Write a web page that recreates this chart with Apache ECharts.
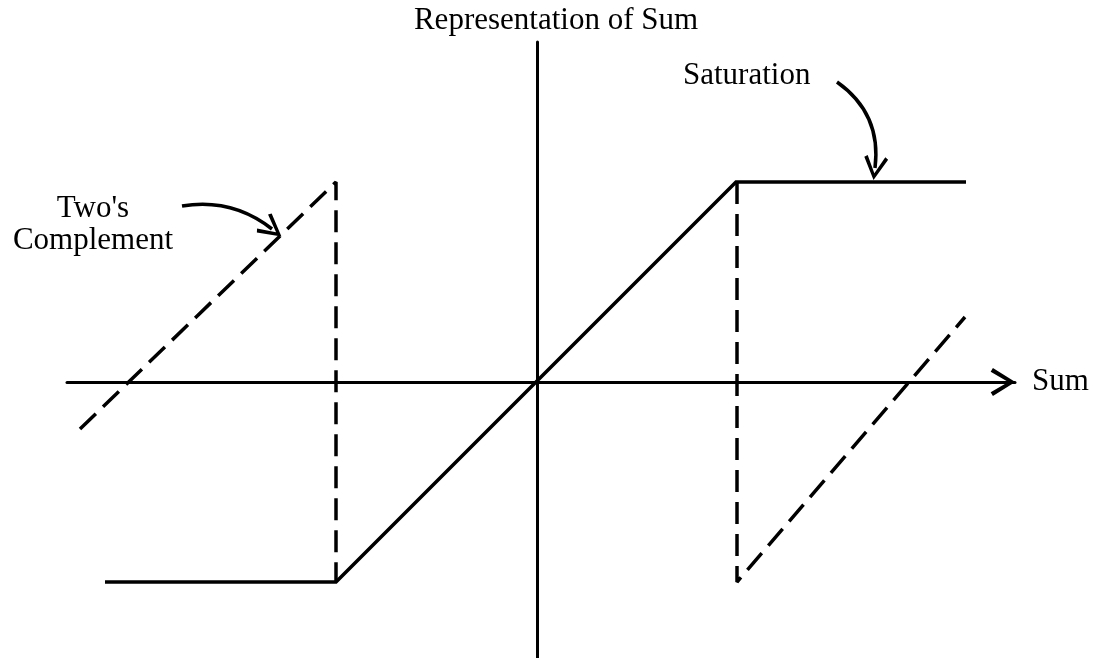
<!DOCTYPE html>
<html>
<head>
<meta charset="utf-8">
<script src="https://cdn.jsdelivr.net/npm/echarts@6/dist/echarts.min.js"></script>
<style>
    html, body { margin: 0; padding: 0; background: #fff; }
    #chart { width: 1099px; height: 658px; }
</style>
</head>
<body>
<div id="chart"></div>
<script>
    // transfer curve, in units of the saturation level
    var solidX = [-2.16, -1.005, 0.995, 2.145];
    var solidY = [-1, -1, 1, 1];

    // two's complement wrap-around, left and right pieces
    var wrapLeftX = [-2.285, -1.005, -1.005];
    var wrapLeftY = [-0.235, 1, -1];
    var wrapRightX = [1, 1, 2.14];
    var wrapRightY = [1, -1, 0.325];

    // annotation arrows: [startX, startY, endX, endY]
    var twosArrow = [-1.775, 0.88, -1.325, 0.765];
    var satArrow = [1.5, 1.5, 1.69, 1.07];

    var font = '"Liberation Serif", "DejaVu Serif", serif';

    function pairs(xs, ys) {
        var out = [];
        for (var i = 0; i < xs.length; i++) {
            out.push([xs[i], ys[i]]);
        }
        return out;
    }

    var chevron = 'path://M0,16 L10,0 L20,16 L17.4,17.6 L10,5 L2.6,17.6 Z';

    var chart = echarts.init(document.getElementById('chart'));
    chart.setOption({
        backgroundColor: '#ffffff',
        animation: false,
        grid: {
            left: 67,
            top: 42,
            width: 948,
            height: 616
        },
        xAxis: {
            type: 'value',
            min: -2.35,
            max: 2.39,
            name: 'Sum',
            nameLocation: 'end',
            nameGap: 17,
            nameTextStyle: {
                fontFamily: font,
                fontSize: 31,
                color: '#000'
            },
            axisLine: {
                onZero: true,
                symbol: ['none', chevron],
                symbolSize: [28, 30],
                symbolOffset: [0, -12],
                lineStyle: {color: '#000', width: 3}
            },
            axisTick: {show: false},
            axisLabel: {show: false},
            splitLine: {show: false}
        },
        yAxis: {
            type: 'value',
            min: -1.38,
            max: 1.7,
            name: 'Representation of Sum',
            nameLocation: 'end',
            nameGap: 6,
            nameTextStyle: {
                fontFamily: font,
                fontSize: 31,
                color: '#000',
                padding: [0, 0, 0, 38]
            },
            axisLine: {
                onZero: true,
                lineStyle: {color: '#000', width: 3}
            },
            axisTick: {show: false},
            axisLabel: {show: false},
            splitLine: {show: false}
        },
        graphic: [
            {
                type: 'text',
                x: 683,
                y: 60,
                style: {
                    text: 'Saturation',
                    font: '31px ' + font,
                    fill: '#000'
                }
            },
            {
                type: 'text',
                x: 93,
                y: 193,
                style: {
                    text: "Two's\nComplement",
                    font: '31px ' + font,
                    lineHeight: 32,
                    align: 'center',
                    fill: '#000'
                }
            }
        ],
        series: [
            {
                name: 'saturation',
                type: 'line',
                data: pairs(solidX, solidY),
                symbol: 'none',
                lineStyle: {color: '#000', width: 3.5, join: 'miter'}
            },
            {
                name: 'wrapLeft',
                type: 'line',
                data: pairs(wrapLeftX, wrapLeftY),
                symbol: 'none',
                lineStyle: {color: '#000', width: 3.5, type: [22, 10]}
            },
            {
                name: 'wrapRight',
                type: 'line',
                data: pairs(wrapRightX, wrapRightY),
                symbol: 'none',
                lineStyle: {color: '#000', width: 3.5, type: [22, 10]}
            },
            {
                name: 'arrows',
                type: 'lines',
                coordinateSystem: 'cartesian2d',
                symbol: ['none', chevron],
                symbolSize: [32, 24],
                lineStyle: {color: '#000', width: 3.5, opacity: 1},
                data: [
                    {
                        coords: [[twosArrow[0], twosArrow[1]], [twosArrow[2], twosArrow[3]]],
                        lineStyle: {curveness: 0.22}
                    },
                    {
                        coords: [[satArrow[0], satArrow[1]], [satArrow[2], satArrow[3]]],
                        lineStyle: {curveness: 0.3}
                    }
                ]
            }
        ]
    });
</script>
</body>
</html>
